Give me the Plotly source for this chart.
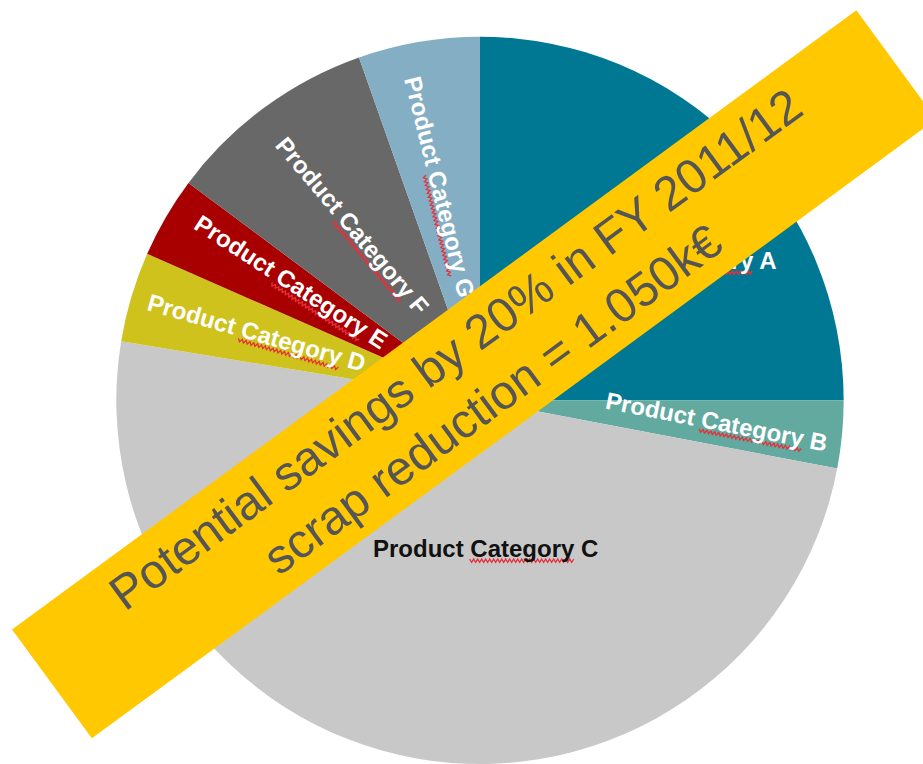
import math
import plotly.graph_objects as go

# Scrap volume share by product category (percent of total)
categories = [
    "Product Category A",
    "Product Category B",
    "Product Category C",
    "Product Category D",
    "Product Category E",
    "Product Category F",
    "Product Category G",
]
shares = [25.0, 3.0, 49.6, 4.0, 3.6, 9.4, 5.4]
slice_colors = ["#007894", "#62AAA0", "#C8C8C8", "#CFC21D", "#A80000", "#686868", "#84AEC4"]
label_colors = ["#FFFFFF", "#FFFFFF", "#111111", "#FFFFFF", "#FFFFFF", "#FFFFFF", "#FFFFFF"]

banner_lines = ["Potential savings by 20% in FY 2011/12", "scrap reduction = 1.050k€"]

# Page geometry (pixels)
W, H = 923, 764
pie_left, pie_right = 115, 845
pie_top_frac = 0.952
R = (pie_right - pie_left) / 2
cx = (pie_left + pie_right) / 2
cy = H - R

# Label placement: radius fraction, angular nudge (deg), text tilt (deg)
label_r = [0.63, 0.65, 0.41, 0.64, 0.61, 0.59, 0.59]
label_shift = [8, 0, -12, 0, 1.5, 0, -1]
label_tilt = [0, 11, 0, 16, 33, 50, 76]
label_size = [24, 24, 24, 24, 24, 24, 24]

# Arial-bold advance widths (em) used to locate the word "Category"
EM_PREFIX = 4.056   # "Product "
EM_WORD = 4.334     # "Category"
EM_TOTAL = 9.39     # whole label


def to_paper(px, py):
    return px / W, 1 - py / H


def squiggle(px, py, tilt_deg, fs):
    """Red wavy spell-check underline beneath 'Category' of a label centred at (px, py)."""
    t = math.radians(tilt_deg)
    ux, uy = math.cos(t), math.sin(t)
    nx, ny = -math.sin(t), math.cos(t)
    w = EM_TOTAL * fs
    u0 = -w / 2 + EM_PREFIX * fs
    u1 = u0 + EM_WORD * fs
    base = 0.42 * fs + 2
    step, amp = 2.0, 1.6
    pts = []
    k = 0
    u = u0
    while u <= u1:
        off = base + (amp if k % 2 else -amp)
        x = px + u * ux + off * nx
        y = py + u * uy + off * ny
        pts.append(to_paper(x, y))
        u += step
        k += 1
    d = "M " + " L ".join(f"{x:.5f},{y:.5f}" for x, y in pts)
    return dict(type="path", path=d, xref="paper", yref="paper",
                line=dict(color="#E8303A", width=1.3), layer="above")


fig = go.Figure(
    go.Pie(
        labels=categories,
        values=shares,
        sort=False,
        direction="clockwise",
        rotation=0,
        marker=dict(colors=slice_colors, line=dict(width=0)),
        textinfo="none",
        hoverinfo="label+percent",
        showlegend=False,
        domain=dict(x=[pie_left / W, pie_right / W], y=[0, pie_top_frac]),
    )
)

annotations = []
shapes = []
total = sum(shares)
cum = 0.0
for name, v, col, r, sh, tilt, fs in zip(
    categories, shares, label_colors, label_r, label_shift, label_tilt, label_size
):
    mid = (cum + v / 2) / total * 360 + sh
    cum += v
    a = math.radians(mid)
    px = cx + r * R * math.sin(a)
    py = cy - r * R * math.cos(a)
    x, y = to_paper(px, py)
    annotations.append(
        dict(
            x=x, y=y, xref="paper", yref="paper",
            text=f"<b>{name}</b>",
            showarrow=False,
            textangle=tilt,
            xanchor="center", yanchor="middle",
            font=dict(family="Liberation Sans, Arial, sans-serif", size=fs, color=col),
        )
    )
    shapes.append(squiggle(px, py, tilt, fs))

# Diagonal banner across the chart
bx, by = to_paper(474, 375)
annotations.append(
    dict(
        x=bx, y=by, xref="paper", yref="paper",
        text="<br>".join(banner_lines),
        showarrow=False,
        textangle=-36.25,
        xanchor="center", yanchor="middle",
        align="center", valign="middle",
        width=1047, height=135,
        bgcolor="#FFC800",
        borderpad=0, borderwidth=0,
        font=dict(family="Liberation Sans, Arial, sans-serif", size=48, color="#555555"),
    )
)

fig.update_layout(
    width=W, height=H,
    margin=dict(l=0, r=0, t=0, b=0),
    paper_bgcolor="white",
    plot_bgcolor="white",
    annotations=annotations,
    shapes=shapes,
)

fig.write_html("out.html")
